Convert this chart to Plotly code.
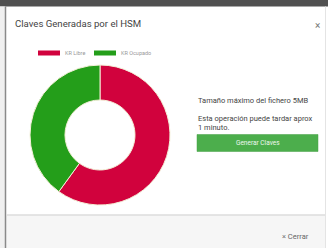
import plotly.graph_objects as go

W, H = 328, 248

# Data
labels = ["KR Libre", "KR Ocupado"]
values = [60, 40]
colors = ["#d1023d", "#249e1a"]

title_text = "Claves Generadas por el HSM"
info_lines = ["Tamaño máximo del fichero 5MB", "Esta operación puede tardar aprox", "1 minuto."]
button_text = "Generar Claves"
close_text = "× Cerrar"

def px(x):
    return x / W

def py(y):
    return 1 - y / H

fig = go.Figure()

fig.add_trace(go.Pie(
    labels=labels, values=values, hole=0.5, sort=False, direction="clockwise",
    rotation=0, textinfo="none", hoverinfo="label+value",
    marker=dict(colors=colors, line=dict(color="#f4f0d8", width=1)),
    domain=dict(x=[px(30), px(170)], y=[py(205), py(65)]),
    showlegend=False,
))

shapes = []
annotations = []

# background pieces of the modal screenshot
shapes.append(dict(type="rect", xref="x", yref="y", x0=0, x1=W, y0=0, y1=6.5,
                   fillcolor="#505050", line=dict(width=0), layer="below"))
shapes.append(dict(type="rect", xref="x", yref="y", x0=0, x1=5, y0=6.5, y1=H,
                   fillcolor="#f0f0f0", line=dict(width=0), layer="below"))
shapes.append(dict(type="line", xref="x", yref="y", x0=5.5, x1=5.5, y0=6.5, y1=H,
                   line=dict(color="#8a8a8a", width=1.5)))
shapes.append(dict(type="line", xref="x", yref="y", x0=325.5, x1=325.5, y0=6.5, y1=H,
                   line=dict(color="#e4e4e4", width=1)))
# footer
shapes.append(dict(type="rect", xref="x", yref="y", x0=6, x1=325, y0=215, y1=H,
                   fillcolor="#f6f6f6", line=dict(width=0), layer="below"))
shapes.append(dict(type="line", xref="x", yref="y", x0=6, x1=325, y0=215, y1=215,
                   line=dict(color="#dddddd", width=1.5)))

# title and close
annotations.append(dict(x=13, y=23, xref="x", yref="y", text=title_text, showarrow=False,
                        xanchor="left", yanchor="middle",
                        font=dict(family="Roboto", size=9.6, color="#444444")))
annotations.append(dict(x=317, y=25, xref="x", yref="y", text="×", showarrow=False,
                        xanchor="center", yanchor="middle",
                        font=dict(family="Roboto", size=10, color="#777777")))

# custom legend
lx = 38
for lab, col in zip(labels, colors):
    shapes.append(dict(type="rect", xref="x", yref="y", x0=lx, x1=lx + 22, y0=50.5, y1=55.5,
                       fillcolor=col, line=dict(width=0)))
    annotations.append(dict(x=lx + 25, y=53, xref="x", yref="y", text=lab, showarrow=False,
                            xanchor="left", yanchor="middle",
                            font=dict(family="Roboto", size=5.5, color="#999999")))
    lx += 56

# info text
ys = [100, 118, 127]
for t, yy in zip(info_lines, ys):
    annotations.append(dict(x=196, y=yy, xref="x", yref="y", text=t, showarrow=False,
                            xanchor="left", yanchor="middle",
                            font=dict(family="Roboto", size=7.5, color="#444444")))

# button
shapes.append(dict(type="rect", xref="x", yref="y", x0=197, x1=318, y0=134.5, y1=151.5,
                   fillcolor="#4cae4c", line=dict(color="#44a044", width=0.5)))
annotations.append(dict(x=257.5, y=143, xref="x", yref="y", text=button_text, showarrow=False,
                        xanchor="center", yanchor="middle",
                        font=dict(family="Roboto", size=6.5, color="#eef8ee")))

# footer close button
annotations.append(dict(x=295, y=236, xref="x", yref="y", text=close_text, showarrow=False,
                        xanchor="center", yanchor="middle",
                        font=dict(family="Roboto", size=7.5, color="#666666")))

fig.update_layout(
    width=W, height=H, margin=dict(l=0, r=0, t=0, b=0),
    paper_bgcolor="white", plot_bgcolor="rgba(0,0,0,0)",
    xaxis=dict(range=[0, W], visible=False, fixedrange=True),
    yaxis=dict(range=[H, 0], visible=False, fixedrange=True),
    shapes=shapes, annotations=annotations, showlegend=False,
)

fig.write_html("out.html", config={"displayModeBar": False},
               post_script="document.body.style.margin='0';document.body.style.overflow='hidden';")
